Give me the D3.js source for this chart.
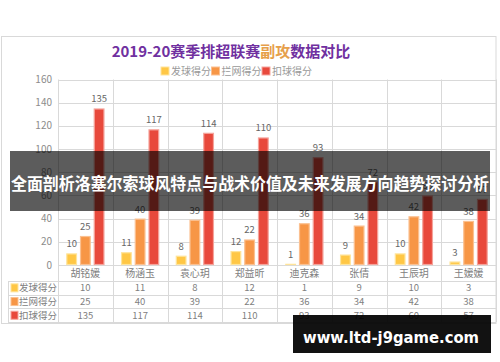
<!DOCTYPE html>
<meta charset="utf-8">
<html>
<head>
<meta charset="UTF-8">
<title>2019-20赛季排超联赛副攻数据对比</title>
<script src="https://d3js.org/d3.v7.min.js"></script>
<style>
  body { margin: 0; background: #fff; }
  svg { display: block; font-family: "Noto Sans CJK SC", "Noto Sans", sans-serif; }
</style>
</head>
<body>
<svg id="chart" width="500" height="362"></svg>
<script>
// data
var categories = ["胡铭媛", "杨涵玉", "袁心玥", "郑益昕", "迪克森", "张倩", "王辰玥", "王媛媛"];
var seriesNames = ["发球得分", "拦网得分", "扣球得分"];
var serveScores = [10, 11, 8, 12, 1, 9, 10, 3];
var blockScores = [25, 40, 39, 22, 36, 34, 42, 38];
var spikeScores = [135, 117, 114, 110, 93, 72, 60, 57];
var yTicks = [0, 20, 40, 60, 80, 100, 120, 140, 160];

var seriesValues = [serveScores, blockScores, spikeScores];
var fills = ["#ffc745", "#f79646", "#e8493c"];
var strokes = ["#ffe49a", "#fbc090", "#f5a39b"];

var svg = d3.select("#chart");
var plotLeft = 58, plotRight = 496, plotTop = 79.5, plotBase = 265;
var rowH = 13.7;

// frame
svg.append("rect").attr("x", 1.5).attr("y", 36.5).attr("width", 494.5).attr("height", 287)
  .attr("fill", "#fff").attr("stroke", "#d9d9d9");

var x = d3.scaleBand().domain(categories).range([plotLeft, plotRight]).padding(0);
var xs = d3.scaleBand().domain(d3.range(3)).range([8.3, x.bandwidth() - 8.3]).paddingInner(0.22);
var y = d3.scaleLinear().domain([0, 160]).range([plotBase, plotTop]);

// horizontal grid
svg.append("g").selectAll("line").data(yTicks).enter().append("line")
  .attr("x1", plotLeft).attr("x2", plotRight)
  .attr("y1", function(d) { return Math.round(y(d)) + 0.5; })
  .attr("y2", function(d) { return Math.round(y(d)) + 0.5; })
  .attr("stroke", "#d9d9d9");

// y labels
svg.append("g").selectAll("text").data(yTicks).enter().append("text")
  .attr("x", 52).attr("y", function(d) { return y(d); }).attr("dy", "0.35em")
  .attr("text-anchor", "end").attr("font-size", 10).attr("fill", "#8c8c8c").text(function(d) { return d; });

// vertical grid (through table)
var bounds = categories.map(function(c) { return x(c); }).concat([plotRight]);
var tableBottom = plotBase + 16 + rowH * 3;
svg.append("g").selectAll("line").data(bounds).enter().append("line")
  .attr("x1", function(d) { return Math.round(d) + 0.5; }).attr("x2", function(d) { return Math.round(d) + 0.5; })
  .attr("y1", plotTop).attr("y2", tableBottom).attr("stroke", "#d9d9d9");

// table rows
var rowTops = [plotBase + 16, plotBase + 16 + rowH, plotBase + 16 + rowH * 2, tableBottom];
svg.append("g").selectAll("line").data(rowTops).enter().append("line")
  .attr("x1", 8).attr("x2", plotRight)
  .attr("y1", function(d) { return Math.round(d) + 0.5; }).attr("y2", function(d) { return Math.round(d) + 0.5; })
  .attr("stroke", "#d9d9d9");
svg.append("line").attr("x1", 8.5).attr("x2", 8.5).attr("y1", rowTops[0]).attr("y2", tableBottom).attr("stroke", "#d9d9d9");

// category header
svg.append("g").selectAll("text").data(categories).enter().append("text")
  .attr("x", function(d) { return x(d) + x.bandwidth() / 2; }).attr("y", plotBase + 8).attr("dy", "0.35em")
  .attr("text-anchor", "middle").attr("font-size", 10).attr("fill", "#808080").text(function(d) { return d; });

// bars and labels
seriesValues.forEach(function(vals, s) {
  var g = svg.append("g");
  g.selectAll("rect").data(vals).enter().append("rect")
    .attr("x", function(d, i) { return x(categories[i]) + xs(s) + 0.5; })
    .attr("y", function(d) { return y(d) + 0.5; })
    .attr("width", xs.bandwidth() - 1)
    .attr("height", function(d) { return plotBase - y(d) - 1; })
    .attr("fill", fills[s]).attr("stroke", strokes[s]).attr("stroke-width", 1.2);
  g.selectAll("text").data(vals).enter().append("text")
    .attr("x", function(d, i) { return x(categories[i]) + xs(s) + xs.bandwidth() / 2; })
    .attr("y", function(d) { return y(d) - 6; })
    .attr("text-anchor", "middle").attr("font-size", 9.5).attr("fill", "#666").text(function(d) { return d; });

  // table row
  var rowY = rowTops[s] + rowH / 2;
  svg.append("rect").attr("x", 11).attr("y", rowY - 4).attr("width", 7).attr("height", 8)
    .attr("fill", fills[s]).attr("stroke", strokes[s]);
  svg.append("text").attr("x", 19).attr("y", rowY).attr("dy", "0.35em")
    .attr("font-size", 9.5).attr("fill", "#808080").text(seriesNames[s]);
  svg.append("g").selectAll("text").data(vals).enter().append("text")
    .attr("x", function(d, i) { return x(categories[i]) + x.bandwidth() / 2; })
    .attr("y", rowY).attr("dy", "0.35em").attr("text-anchor", "middle")
    .attr("font-size", 9.5).attr("fill", "#808080").text(function(d) { return d; });
});

// title
var title = svg.append("text").attr("x", 231).attr("y", 52).attr("dy", "0.35em").attr("text-anchor", "middle")
  .attr("font-size", 15).attr("font-weight", "bold").attr("fill", "#7030a0");
title.append("tspan").text("2019-20赛季排超联赛");
title.append("tspan").attr("fill", "#e6a04a").text("副攻");
title.append("tspan").text("数据对比");

// legend
var lg = svg.append("g").attr("transform", "translate(161,71)");
seriesNames.forEach(function(n, i) {
  var gx = i * 50.5;
  lg.append("rect").attr("x", gx).attr("y", -4).attr("width", 8).attr("height", 8)
    .attr("fill", fills[i]).attr("stroke", strokes[i]);
  lg.append("text").attr("x", gx + 10).attr("y", 0).attr("dy", "0.35em")
    .attr("font-size", 10).attr("fill", "#999").text(n);
});

// overlay banner
svg.append("rect").attr("x", 10).attr("y", 151).attr("width", 480).attr("height", 60)
  .attr("fill", "#000").attr("opacity", 0.64);
svg.append("text").attr("x", 250).attr("y", 184).attr("dy", "0.35em").attr("text-anchor", "middle")
  .attr("font-size", 16.5).attr("font-weight", "bold").attr("fill", "#fff")
  .attr("textLength", 478).attr("lengthAdjust", "spacingAndGlyphs")
  .text("全面剖析洛塞尔索球风特点与战术价值及未来发展方向趋势探讨分析");

// watermark
svg.append("rect").attr("x", 293).attr("y", 315).attr("width", 198).attr("height", 38)
  .attr("fill", "#000").attr("opacity", 0.93);
svg.append("text").attr("x", 391).attr("y", 337).attr("dy", "0.35em").attr("text-anchor", "middle")
  .attr("font-family", "DejaVu Sans").attr("font-size", 16).attr("font-weight", "bold").attr("fill", "#fff")
  .attr("textLength", 176).attr("lengthAdjust", "spacingAndGlyphs")
  .text("www.ltd-j9game.com");
</script>
</body>
</html>
